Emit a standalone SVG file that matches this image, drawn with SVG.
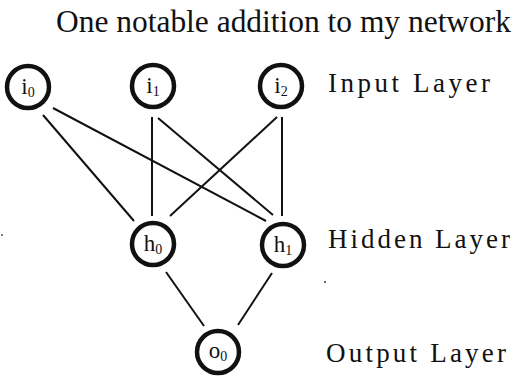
<svg xmlns="http://www.w3.org/2000/svg" width="514" height="378" viewBox="0 0 514 378" font-family="'Liberation Serif', 'Times New Roman', 'DejaVu Serif', serif">
<style>
text{font-family:'Liberation Serif','Times New Roman','DejaVu Serif',serif}
.node circle{fill:#fff;stroke:#111;stroke-width:4.5}
.node text{font-size:23px;fill:#111;text-anchor:middle}
.sub{font-size:14px}
.edge{stroke:#111;stroke-width:2;fill:none}
.lbl{font-size:27px;fill:#111}
.title{font-size:31px;fill:#111}
</style>
<rect width="514" height="378" fill="#fff"/>
<text class="title" x="56" y="32" textLength="455" lengthAdjust="spacingAndGlyphs">One notable addition to my network</text>
<g id="connectors">
<line class="edge" x1="43" y1="115" x2="134" y2="221"/>
<line class="edge" x1="53" y1="108" x2="266" y2="221"/>
<line class="edge" x1="152" y1="117" x2="152" y2="216"/>
<line class="edge" x1="158" y1="118" x2="273" y2="215"/>
<line class="edge" x1="277" y1="117" x2="170" y2="216"/>
<line class="edge" x1="282" y1="117" x2="282" y2="216"/>
<line class="edge" x1="166" y1="272" x2="204" y2="326"/>
<line class="edge" x1="272" y1="273" x2="238" y2="325"/>
</g>
<g id="i0" class="node"><circle cx="28" cy="87" r="21"/><text x="28" y="94">i<tspan class="sub" dy="3">0</tspan></text></g>
<g id="i1" class="node"><circle cx="153" cy="86" r="21"/><text x="153" y="93">i<tspan class="sub" dy="3">1</tspan></text></g>
<g id="i2" class="node"><circle cx="281" cy="86" r="21"/><text x="281" y="93">i<tspan class="sub" dy="3">2</tspan></text></g>
<g id="h0" class="node"><circle cx="153" cy="244" r="21"/><text x="153" y="251">h<tspan class="sub" dy="3">0</tspan></text></g>
<g id="h1" class="node"><circle cx="283" cy="245" r="21"/><text x="283" y="252">h<tspan class="sub" dy="3">1</tspan></text></g>
<g id="o0" class="node"><circle cx="218" cy="352" r="21"/><text x="218" y="358">o<tspan class="sub" dy="3">0</tspan></text></g>
<text class="lbl" x="328" y="92" textLength="162" lengthAdjust="spacing">Input Layer</text>
<text class="lbl" x="328" y="248" textLength="182" lengthAdjust="spacing">Hidden Layer</text>
<text class="lbl" x="326" y="362" textLength="180" lengthAdjust="spacing">Output Layer</text>
<circle cx="325" cy="282" r="1" fill="#333"/>
<circle cx="2" cy="235" r="1" fill="#555"/>
</svg>
